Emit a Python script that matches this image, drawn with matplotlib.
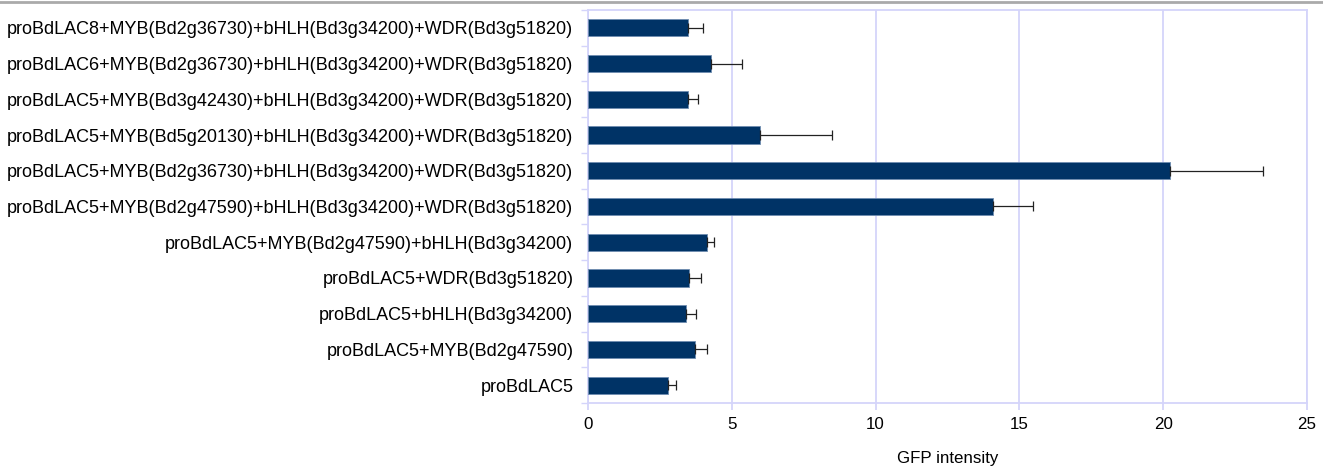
import numpy as np
import matplotlib.pyplot as plt
from matplotlib.lines import Line2D

plt.rcParams['font.family'] = ['Liberation Sans', 'DejaVu Sans']

# constructs, listed bottom to top
labels = [
    "proBdLAC5",
    "proBdLAC5+MYB(Bd2g47590)",
    "proBdLAC5+bHLH(Bd3g34200)",
    "proBdLAC5+WDR(Bd3g51820)",
    "proBdLAC5+MYB(Bd2g47590)+bHLH(Bd3g34200)",
    "proBdLAC5+MYB(Bd2g47590)+bHLH(Bd3g34200)+WDR(Bd3g51820)",
    "proBdLAC5+MYB(Bd2g36730)+bHLH(Bd3g34200)+WDR(Bd3g51820)",
    "proBdLAC5+MYB(Bd5g20130)+bHLH(Bd3g34200)+WDR(Bd3g51820)",
    "proBdLAC5+MYB(Bd3g42430)+bHLH(Bd3g34200)+WDR(Bd3g51820)",
    "proBdLAC6+MYB(Bd2g36730)+bHLH(Bd3g34200)+WDR(Bd3g51820)",
    "proBdLAC8+MYB(Bd2g36730)+bHLH(Bd3g34200)+WDR(Bd3g51820)",
]
gfp = [2.79, 3.73, 3.40, 3.52, 4.15, 14.09, 20.24, 5.98, 3.47, 4.29, 3.49]
sd = [0.28, 0.41, 0.34, 0.40, 0.25, 1.39, 3.22, 2.52, 0.34, 1.05, 0.52]

grid_col = '#d4d4fa'

fig = plt.figure(figsize=(13.23, 4.73), dpi=100)
ax = fig.add_axes([0.4444, 0.148, 0.9879 - 0.4444, 0.9789 - 0.148])

y = np.arange(len(labels))
ax.barh(y, gfp, height=0.48, color='#003366', edgecolor='#6f8db0', linewidth=0.6,
        xerr=[np.zeros(len(sd)), sd],
        error_kw=dict(ecolor='#222222', elinewidth=0.9, capsize=3.5, capthick=0.9),
        zorder=3)

ax.set_xlim(0, 25)
ax.set_ylim(-0.5, len(labels) - 0.5)
ax.set_xticks(np.arange(0, 26, 5))
ax.set_yticks(y)
ax.set_yticklabels(labels)
ax.set_yticks(np.arange(-0.5, len(labels), 1), minor=True)

ax.grid(axis='x', color=grid_col, linewidth=1.3, zorder=0)
for s in ax.spines.values():
    s.set_color(grid_col)
    s.set_linewidth(1.3)

ax.tick_params(axis='y', which='major', length=0, pad=10.5, labelsize=12.95)
ax.tick_params(axis='y', which='minor', length=5, color=grid_col, width=1)
ax.tick_params(axis='x', which='major', length=5, color=grid_col, width=1.3,
               labelsize=12.2, pad=5)
ax.set_xlabel("GFP intensity", fontsize=12.2, labelpad=14)

# thin grey rule across the top
fig.add_artist(Line2D([0, 1], [0.996, 0.996], transform=fig.transFigure,
                      color='#aaaaaa', linewidth=2))

fig.savefig("out.png", dpi=100)
